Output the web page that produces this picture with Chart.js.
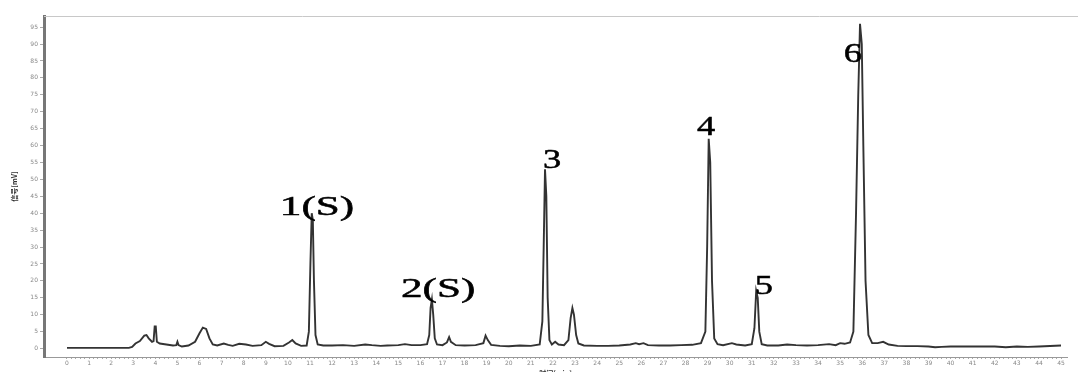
<!DOCTYPE html>
<html><head><meta charset="utf-8">
<script src="https://cdn.jsdelivr.net/npm/chart.js@4"></script>
<style>html,body{margin:0;padding:0;background:#fff}#wrap{width:1078px;height:372px}</style>
</head><body><div id="wrap"><canvas id="c" width="1078" height="372"></canvas></div>
<script>
const retentionTime = [0,2.8,2.95,3.1,3.3,3.5,3.6,3.7,3.85,3.92,3.97,4.02,4.07,4.2,4.5,4.8,4.95,5.0,5.05,5.2,5.5,5.8,6.0,6.15,6.3,6.45,6.6,6.8,7.1,7.3,7.5,7.8,8.1,8.4,8.8,9.0,9.15,9.4,9.8,10.05,10.2,10.35,10.6,10.85,10.95,11.02,11.08,11.13,11.18,11.25,11.35,11.6,12.0,12.5,13.0,13.5,13.8,14.2,14.5,15.0,15.3,15.6,16.0,16.3,16.4,16.46,16.52,16.58,16.65,16.75,17.0,17.2,17.3,17.38,17.6,18.0,18.5,18.85,18.95,19.05,19.2,19.6,20.0,20.5,21.0,21.4,21.52,21.58,21.64,21.7,21.76,21.84,21.95,22.1,22.25,22.5,22.7,22.8,22.88,22.95,23.05,23.15,23.4,24.0,24.5,25.0,25.5,25.75,25.9,26.1,26.3,26.8,27.3,27.8,28.3,28.7,28.9,28.98,29.05,29.12,29.2,29.3,29.45,29.7,30.1,30.3,30.7,31.0,31.12,31.2,31.27,31.34,31.45,31.7,32.2,32.6,33.0,33.5,34.0,34.5,34.8,35.0,35.2,35.45,35.6,35.72,35.82,35.9,35.98,36.05,36.15,36.28,36.45,36.7,36.95,37.2,37.6,38.0,38.5,39.0,39.3,39.6,40.0,41.0,42.0,42.5,43.0,43.5,44.0,45.0];
const signal = [0.2,0.2,0.5,1.5,2.2,3.8,4.0,3.0,2.0,2.2,6.5,6.5,2.0,1.5,1.2,0.9,1.0,2.0,1.0,0.6,0.9,2.0,4.5,6.2,5.8,3.0,1.2,0.9,1.5,1.1,0.8,1.4,1.2,0.8,1.0,2.0,1.4,0.7,0.8,1.8,2.5,1.5,0.8,0.9,5,25,40,38,20,4,1.2,0.9,0.9,1.0,0.8,1.2,1.0,0.8,0.9,1.0,1.3,1.0,1.0,1.3,4,12,14.5,10,3,1.2,1.0,1.8,3.4,2.0,1.0,0.9,1.0,1.6,3.8,2.5,1.1,0.8,0.7,0.9,0.8,1.2,8,30,53,45,15,2.5,1.2,2.0,1.2,1.0,2.5,9,12,10,4,1.5,0.9,0.8,0.8,0.9,1.2,1.6,1.3,1.6,1.0,0.9,0.9,1.0,1.1,1.6,5,30,62,55,20,3,1.3,1.0,1.6,1.2,0.9,1.3,6,17,15,5,1.3,0.9,0.9,1.2,1.0,0.9,1.0,1.3,1.0,1.6,1.4,1.8,5,40,75,96,90,60,20,4,1.6,1.6,2.0,1.2,0.8,0.7,0.7,0.6,0.4,0.5,0.6,0.6,0.6,0.4,0.6,0.5,0.6,0.9];
const xTickLabels = [0,1,2,3,4,5,6,7,8,9,10,11,12,13,14,15,16,17,18,19,20,21,22,23,24,25,26,27,28,29,30,31,32,33,34,35,36,37,38,39,40,41,42,43,44,45];
const yTickLabels = [0,5,10,15,20,25,30,35,40,45,50,55,60,65,70,75,80,85,90,95];
const peakNames = ['1(S)','2(S)','3','4','5','6'];
const peakLabelTime = [11.32,16.8,21.96,28.93,31.55,35.58];
const peakLabelValue = [39.6,15.2,53.5,63.2,16,84.8];

const peakLabelPlugin = {
  id: 'peakLabels',
  afterDatasetsDraw(chart) {
    const {ctx, scales: {x, y}} = chart;
    ctx.save();
    ctx.fillStyle = '#000';
    ctx.strokeStyle = '#000';
    ctx.lineWidth = 0.5;
    ctx.font = '27px "Liberation Serif", "Times New Roman", serif';
    ctx.textAlign = 'center';
    ctx.textBaseline = 'alphabetic';
    peakNames.forEach((n, i) => {
      const px = x.getPixelForValue(peakLabelTime[i]);
      const py = y.getPixelForValue(peakLabelValue[i]);
      ctx.save();
      ctx.translate(px, py);
      ctx.scale(n.length > 1 ? 1.6 : 1.35, 1);
      ctx.fillText(n, 0, 0);
      ctx.strokeText(n, 0, 0);
      ctx.restore();
    });
    ctx.restore();
  }
};
const frameLinePlugin = {
  id: 'frameLine',
  afterDraw(chart) {
    const {ctx, chartArea} = chart;
    ctx.save();
    ctx.strokeStyle = '#c8c8c8';
    ctx.lineWidth = 1;
    ctx.beginPath();
    ctx.moveTo(chartArea.left, chartArea.top + 0.5);
    ctx.lineTo(chart.width, chartArea.top + 0.5);
    ctx.stroke();
    ctx.restore();
  }
};

const minorTicks = [];
for (let i = 0; i <= 225; i++) minorTicks.push({value: +(i * 0.2).toFixed(1)});

new Chart(document.getElementById('c'), {
  type: 'line',
  data: {
    datasets: [{
      data: retentionTime.map((t, i) => ({x: t, y: signal[i]})),
      borderColor: '#333',
      borderWidth: 1.9,
      pointRadius: 0,
      tension: 0,
      fill: false
    }]
  },
  options: {
    responsive: false,
    devicePixelRatio: 1,
    animation: false,
    layout: {padding: {top: 16, right: 11, bottom: 0, left: 0}},
    plugins: {legend: {display: false}, tooltip: {enabled: false}},
    scales: {
      x: {
        type: 'linear', min: -1.04, max: 45.27,
        afterBuildTicks: s => { s.ticks = minorTicks; },
        afterFit: s => { s.height = 15; },
        ticks: {
          autoSkip: false, maxRotation: 0, padding: 1,
          font: {size: 6, family: 'DejaVu Sans'}, color: '#888',
          callback: v => xTickLabels.includes(v) ? String(v) : ''
        },
        grid: {drawOnChartArea: false, tickLength: 2, color: '#aaa'},
        border: {color: '#999', width: 1},
        title: {display: true, text: '时间[min]', color: '#333', font: {size: 7, weight: 'bold', family: 'Noto Sans CJK SC'}, padding: {top: 0, bottom: -6}}
      },
      y: {
        min: -2.5, max: 98.3,
        afterBuildTicks: s => { s.ticks = yTickLabels.map(v => ({value: v})); },
        afterFit: s => { s.width = 44; },
        ticks: {font: {size: 6, family: 'DejaVu Sans'}, color: '#888', padding: 2},
        grid: {drawOnChartArea: false, tickLength: 4, color: '#aaa'},
        border: {color: '#777', width: 3},
        title: {display: true, text: '信号[mV]', color: '#333', font: {size: 7, weight: 'bold', family: 'Noto Sans CJK SC'}, padding: {top: 10, bottom: 0}}
      }
    }
  },
  plugins: [peakLabelPlugin, frameLinePlugin]
});
</script></body></html>
